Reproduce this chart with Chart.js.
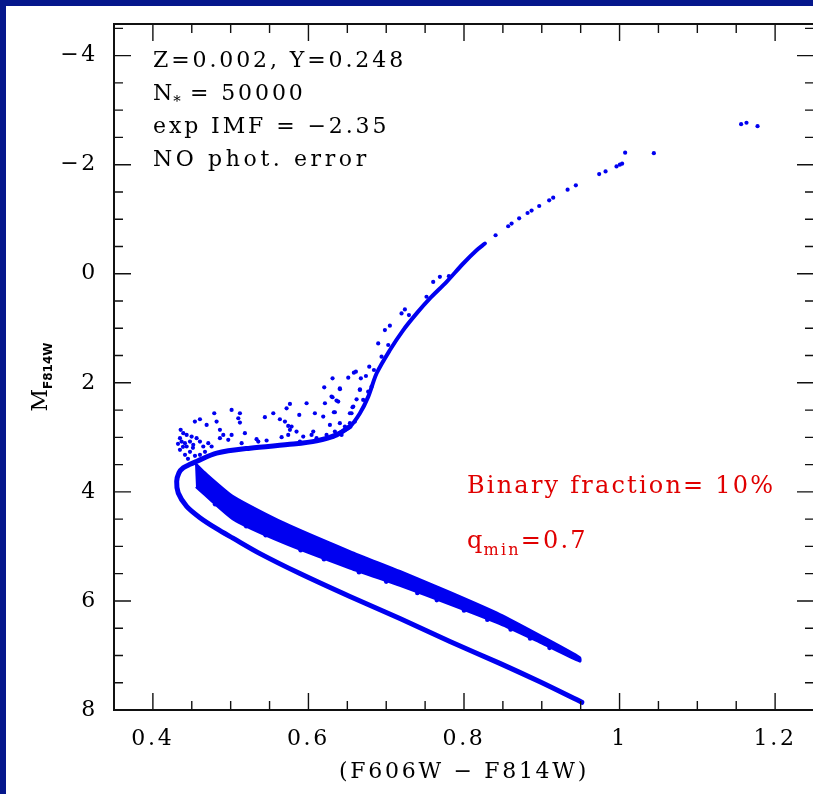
<!DOCTYPE html>
<html>
<head>
<meta charset="utf-8">
<script src="https://cdn.jsdelivr.net/npm/chart.js@4.4.1/dist/chart.umd.min.js"></script>
<style>
  html, body { margin: 0; padding: 0; width: 813px; height: 794px; overflow: hidden; background: #05178c; }
  #panel { position: absolute; left: 6px; top: 6px; width: 830px; height: 788px; background: #ffffff; }
  canvas { display: block; }
</style>
</head>
<body>
<div id="panel"><canvas id="cmd" width="830" height="788"></canvas></div>
<script>
// ---- Synthetic CMD: Z=0.002, Y=0.248, 50000 stars, 10% binaries (q_min = 0.7) ----

// Single-star main sequence, turn-off hook and sub-giant branch (colour, magnitude)
const msColor = [0.9515, 0.8976, 0.8461, 0.7819, 0.7176, 0.6533, 0.5891, 0.5377, 0.5030, 0.4820,
                 0.4605, 0.4434, 0.4326, 0.4306, 0.4335, 0.4391, 0.4477, 0.4567, 0.4820, 0.5248,
                 0.5805, 0.6105, 0.6362, 0.6533];
const msMag   = [7.859, 7.484, 7.145, 6.743, 6.322, 5.919, 5.498, 5.132, 4.849, 4.675,
                 4.473, 4.266, 4.021, 3.809, 3.650, 3.558, 3.494, 3.439, 3.289, 3.198,
                 3.124, 3.064, 2.954, 2.802];

// Lower red-giant branch (densely populated part)
const rgbColor = [0.6362, 0.6533, 0.6662, 0.6769, 0.6877, 0.7048, 0.7219, 0.7391, 0.7562, 0.7776,
                  0.7990, 0.8162, 0.8269];
const rgbMag   = [2.954, 2.802, 2.557, 2.253, 1.825, 1.399, 1.033, 0.727, 0.452, 0.149,
                  -0.188, -0.431, -0.554];

// Binary sequence: bright edge (q = 1) and faint edge (q = 0.7)
const binUpperColor = [0.4541, 0.4670, 0.5030, 0.5672, 0.6533, 0.7176, 0.7819, 0.8461, 0.8976, 0.9490];
const binUpperMag   = [3.467, 3.650, 4.080, 4.560, 5.090, 5.455, 5.840, 6.245, 6.630, 7.036];
const binLowerColor = [0.4554, 0.5030, 0.5672, 0.6533, 0.7176, 0.7819, 0.8461, 0.8976, 0.9490];
const binLowerMag   = [3.906, 4.500, 4.930, 5.400, 5.720, 6.060, 6.420, 6.760, 7.109];

// Binaries sitting on the ragged faint edge of the binary sequence
const bandEdgeColor = [0.480, 0.520, 0.545, 0.590, 0.620, 0.665, 0.700, 0.740, 0.765, 0.800,
                       0.830, 0.860, 0.885, 0.910];
const bandEdgeMag   = [4.225, 4.630, 4.795, 5.070, 5.235, 5.475, 5.645, 5.855, 5.985, 6.175,
                       6.345, 6.525, 6.690, 6.860];

// Individual stars: binaries above the sub-giant branch, RGB outliers, upper RGB
const starColor = [
  0.4540, 0.4605, 0.4789, 0.5012, 0.5119, 0.5098, 0.5119, 0.4819, 0.4691, 0.4862,
  0.4905, 0.5012, 0.5183, 0.4969, 0.4862, 0.5440, 0.5548, 0.5633, 0.5698, 0.5719,
  0.5762, 0.5976, 0.5882, 0.6083, 0.6190, 0.6203, 0.6297, 0.6404, 0.6212, 0.6327,
  0.6361, 0.6576, 0.6661, 0.6554, 0.6597, 0.5740, 0.5783, 0.5762, 0.5847, 0.5740,
  0.6062, 0.6040, 0.6104, 0.5890, 0.5933, 0.5655, 0.5462, 0.5333, 0.5355, 0.5141,
  0.6276, 0.6404, 0.6469, 0.6340, 0.6426, 0.6319, 0.6233, 0.6533, 0.6704, 0.6768,
  0.6811, 0.4357, 0.4391, 0.4348, 0.4434, 0.4498, 0.4562, 0.4477, 0.4412, 0.4519,
  0.4605, 0.4648, 0.4712, 0.4755, 0.4434, 0.4369,
  0.4348, 0.4413, 0.4477, 0.4541, 0.4451, 0.4605, 0.4670, 0.4387, 0.4323, 0.4515,
  0.6310, 0.6405, 0.6310, 0.6383, 0.6340, 0.6512, 0.6584, 0.6610, 0.6674, 0.6739,
  0.6782, 0.6842, 0.6662, 0.6619, 0.6567, 0.6533, 0.6897, 0.6983, 0.7047, 0.6940,
  0.7026, 0.7197, 0.7240, 0.7292, 0.7518, 0.7604, 0.7690, 0.7806,
  0.8406, 0.8568, 0.8612, 0.8709, 0.8817, 0.8869, 0.8967, 0.9095, 0.9147, 0.9332,
  0.9438, 0.9738, 0.9820, 0.9961, 1.0004, 1.0033, 1.0072, 1.0441, 1.1563, 1.1632,
  1.1774
];
const starMag = [
  2.711, 2.668, 2.558, 2.497, 2.558, 2.650, 2.729, 2.711, 2.772, 2.863,
  2.955, 2.955, 2.924, 3.046, 3.016, 2.631, 2.558, 2.668, 2.711, 2.467,
  2.387, 2.375, 2.589, 2.558, 2.619, 2.082, 2.253, 2.101, 2.375, 2.540,
  2.326, 2.436, 2.131, 2.558, 2.711, 2.790, 2.802, 2.863, 2.894, 2.955,
  2.894, 2.955, 3.016, 3.077, 2.985, 2.997, 3.058, 3.034, 3.077, 3.107,
  2.772, 2.741, 2.802, 2.894, 2.955, 2.985, 2.955, 2.741, 2.314, 2.162,
  2.070, 2.863, 2.924, 3.016, 2.955, 2.985, 3.016, 3.077, 3.107, 3.138,
  3.077, 3.168, 3.107, 3.168, 3.168, 3.077,
  3.229, 3.320, 3.265, 3.338, 3.393, 3.320, 3.265, 3.174, 3.119, 3.192,
  1.917, 2.118, 2.265, 2.344, 2.540, 1.905, 1.814, 1.795, 1.917, 1.875,
  1.704, 1.765, 2.118, 2.302, 2.448, 2.558, 1.277, 1.033, 0.953, 1.520,
  1.307, 0.727, 0.654, 0.758, 0.422, 0.149, 0.057, 0.044,
  -0.706, -0.871, -0.920, -1.017, -1.114, -1.158, -1.242, -1.347, -1.396, -1.542,
  -1.621, -1.828, -1.877, -1.969, -2.000, -2.018, -2.220, -2.212, -2.743, -2.769,
  -2.707
];

// Axis ticks
const xMajorTicks = [0.4, 0.6, 0.8, 1.0, 1.2];
const xTickLabels = ['0.4', '0.6', '0.8', '1', '1.2'];
const yMajorTicks = [-4, -2, 0, 2, 4, 6, 8];
const yTickLabels = ['\u22124', '\u22122', '0', '2', '4', '6', '8'];

const BLUE = 'rgb(0, 0, 240)';
const FONT = '"DejaVu Serif", serif';

const pts = (xs, ys) => xs.map((x, i) => ({ x: x, y: ys[i] }));

const bandOutline = pts(binUpperColor, binUpperMag)
  .concat(pts(binLowerColor, binLowerMag).reverse());

// Inward-pointing ticks on all four sides plus the box
const framePlugin = {
  id: 'frame',
  beforeDraw(chart) {
    chart.ctx.letterSpacing = '2.7px';
  },
  afterDatasetsDraw(chart) {
    const { ctx, chartArea: a } = chart;
    const xs = chart.scales.x, ys = chart.scales.y;
    ctx.save();
    ctx.strokeStyle = '#111';
    ctx.lineWidth = 1.4;
    ctx.beginPath();
    for (let i = 0; i <= 18; i++) {
      const v = 0.35 + i * 0.05;
      const major = xMajorTicks.some(t => Math.abs(t - v) < 1e-6);
      const len = major ? 17 : 9;
      const px = xs.getPixelForValue(v);
      ctx.moveTo(px, a.bottom); ctx.lineTo(px, a.bottom - len);
      ctx.moveTo(px, a.top);    ctx.lineTo(px, a.top + len);
    }
    for (let i = 0; i <= 25; i++) {
      const v = -4.5 + i * 0.5;
      const major = yMajorTicks.some(t => Math.abs(t - v) < 1e-6);
      const len = major ? 17 : 9;
      const py = ys.getPixelForValue(v);
      ctx.moveTo(a.left, py);  ctx.lineTo(a.left + len, py);
      ctx.moveTo(a.right, py); ctx.lineTo(a.right - len, py);
    }
    ctx.stroke();
    ctx.lineWidth = 2;
    ctx.strokeRect(a.left, a.top, a.right - a.left, a.bottom - a.top);
    ctx.restore();
  },
  afterDraw(chart) {
    const { ctx, chartArea: a } = chart;
    ctx.save();
    ctx.textAlign = 'left';
    ctx.textBaseline = 'alphabetic';

    // Model parameters, upper left
    ctx.letterSpacing = '2.9px';
    const L = a.left + 39;
    ctx.fillStyle = '#000';
    ctx.font = '22px ' + FONT;
    ctx.fillText('Z=0.002, Y=0.248', L, a.top + 43);
    ctx.fillText('N', L, a.top + 76);
    let w = ctx.measureText('N').width;
    ctx.font = '15px ' + FONT;
    ctx.fillText('*', L + w - 2, a.top + 82);
    ctx.font = '22px ' + FONT;
    ctx.fillText('= 50000', L + 37, a.top + 76);
    ctx.fillText('exp IMF = \u22122.35', L, a.top + 109);
    ctx.letterSpacing = '3.6px';
    ctx.fillText('NO phot. error', L, a.top + 142);

    // Binary population, in red
    ctx.fillStyle = '#e00000';
    ctx.letterSpacing = '2.2px';
    const R = a.left + 353;
    ctx.font = '24px ' + FONT;
    ctx.fillText('Binary fraction= 10%', R, a.top + 469);
    ctx.fillText('q', R, a.top + 524);
    w = ctx.measureText('q').width;
    ctx.font = '16px ' + FONT;
    ctx.fillText('min', R + w - 1, a.top + 531);
    const w2 = ctx.measureText('min').width;
    ctx.font = '24px ' + FONT;
    ctx.fillText('=0.7', R + w + w2 - 1, a.top + 524);

    // Vertical axis title M_F814W
    ctx.fillStyle = '#000';
    ctx.translate(a.left - 67, (a.top + a.bottom) / 2 + 10);
    ctx.rotate(-Math.PI / 2);
    ctx.letterSpacing = '0px';
    ctx.font = '22px ' + FONT;
    const mw = ctx.measureText('M').width;
    ctx.font = 'bold 12px "DejaVu Sans", sans-serif';
    const sw = ctx.measureText('F814W').width;
    const start = -(mw + sw) / 2;
    ctx.font = '22px ' + FONT;
    ctx.fillText('M', start, 0);
    ctx.font = 'bold 12px "DejaVu Sans", sans-serif';
    ctx.fillText('F814W', start + mw, 5);
    ctx.restore();
  }
};

new Chart(document.getElementById('cmd'), {
  type: 'line',
  data: {
    datasets: [
      {
        label: 'binaries',
        data: bandOutline,
        fill: 'shape',
        backgroundColor: BLUE,
        borderColor: BLUE,
        borderWidth: 2.5,
        borderJoinStyle: 'round',
        pointRadius: 0,
        tension: 0.2
      },
      {
        label: 'binary scatter',
        data: pts(bandEdgeColor, bandEdgeMag),
        showLine: false,
        pointRadius: 2.3,
        pointBorderWidth: 0,
        pointBackgroundColor: BLUE
      },
      {
        label: 'main sequence',
        data: pts(msColor, msMag),
        fill: false,
        borderColor: BLUE,
        borderWidth: 5,
        borderCapStyle: 'round',
        borderJoinStyle: 'round',
        pointRadius: 0,
        tension: 0.3
      },
      {
        label: 'red giant branch',
        data: pts(rgbColor, rgbMag),
        fill: false,
        borderColor: BLUE,
        borderWidth: 4,
        borderCapStyle: 'round',
        borderJoinStyle: 'round',
        pointRadius: 0,
        tension: 0.3
      },
      {
        label: 'stars',
        data: pts(starColor, starMag),
        showLine: false,
        pointRadius: 2.1,
        pointBorderWidth: 0,
        pointBackgroundColor: BLUE
      }
    ]
  },
  options: {
    responsive: false,
    animation: false,
    events: [],
    layout: { padding: { top: 18, right: 22, left: 0, bottom: 0 } },
    plugins: { legend: { display: false }, tooltip: { enabled: false } },
    scales: {
      x: {
        type: 'linear',
        min: 0.35,
        max: 1.25,
        grid: { display: false, drawTicks: false },
        border: { display: false },
        afterBuildTicks: s => { s.ticks = xMajorTicks.map(v => ({ value: v })); },
        ticks: {
          autoSkip: false,
          maxRotation: 0,
          padding: 16,
          color: '#000',
          font: { family: FONT, size: 22 },
          callback: (v, i) => xTickLabels[i]
        },
        title: {
          display: true,
          text: '(F606W \u2212 F814W)',
          color: '#000',
          font: { family: FONT, size: 22 },
          padding: { top: 0, bottom: 9 }
        },
        afterFit: s => { s.height = 84; s.paddingLeft = 0; s.paddingRight = 0; }
      },
      y: {
        type: 'linear',
        reverse: true,
        min: -4.58,
        max: 8,
        grid: { display: false, drawTicks: false },
        border: { display: false },
        afterBuildTicks: s => { s.ticks = yMajorTicks.map(v => ({ value: v })); },
        ticks: {
          autoSkip: false,
          padding: 16,
          color: '#000',
          font: { family: FONT, size: 22 },
          callback: (v, i) => yTickLabels[i]
        },
        afterFit: s => { s.width = 108; s.paddingTop = 0; s.paddingBottom = 0; }
      }
    }
  },
  plugins: [framePlugin]
});
</script>
</body>
</html>
